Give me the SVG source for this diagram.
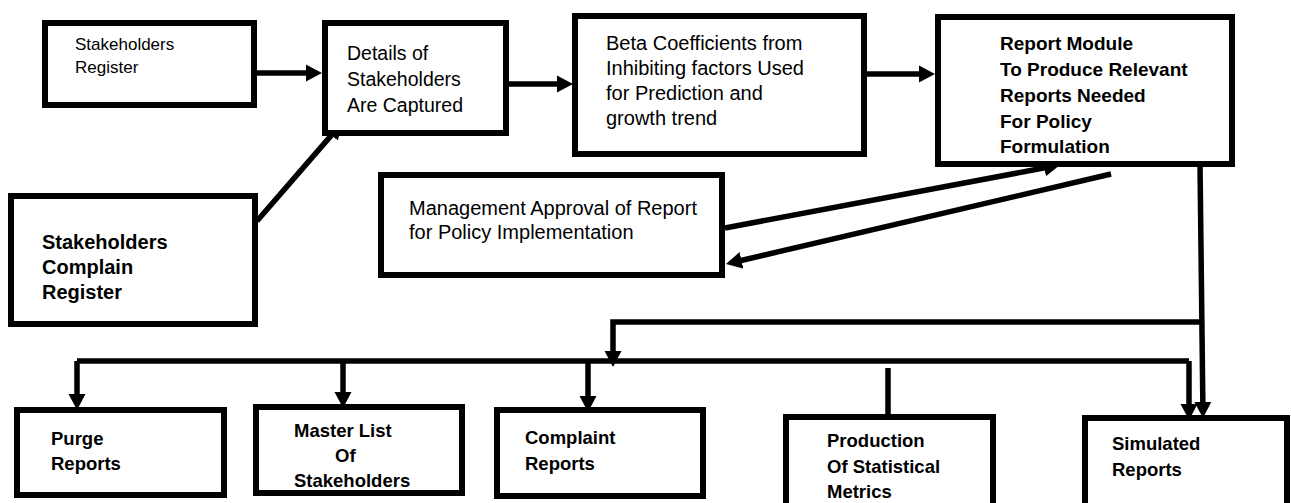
<svg xmlns="http://www.w3.org/2000/svg" width="1291" height="503" viewBox="0 0 1291 503">
<style>
.box{fill:#fff;stroke:#000;stroke-width:6}
.t{font-family:"Liberation Sans",Arial,sans-serif;fill:#000}
.b{font-weight:bold}
.c{fill:none;stroke:#000;stroke-width:5.5}
.a{marker-end:url(#ah)}
</style>
<defs>
<marker id="ah" markerUnits="userSpaceOnUse" markerWidth="17" markerHeight="18" refX="6" refY="9" orient="auto" viewBox="0 0 17 18">
<path d="M0,0.5 L16,9 L0,17.5 z" fill="#000"/>
</marker>
</defs>
<rect width="1291" height="503" fill="#fff"/>
<g id="connectors">
<path class="c a" d="M257,73 H312"/>
<path class="c a" d="M509,84 H563"/>
<path class="c a" d="M867,74 H925"/>
<path class="c a" d="M257,221 L335.4,130.6"/>
<path class="c a" d="M725,228 L1050.2,166.8"/>
<path class="c a" d="M1111,174 L735.7,261.7"/>
<path class="c a" d="M1200,164 L1202.9,408"/>
<path class="c a" d="M1201,322 H613 V357"/>
<path class="c" d="M77,361 H1189"/>
<path class="c a" d="M77,361 V400"/>
<path class="c a" d="M343,361 V398"/>
<path class="c a" d="M588,361 V402"/>
<path class="c a" d="M1189,361 V410"/>
<path class="c" d="M888,368 V416"/>
</g>
<g id="stakeholders-register">
<rect class="box" x="45" y="23" width="209" height="82"/>
<text class="t" font-size="17" x="75" y="50">Stakeholders</text>
<text class="t" font-size="17" x="75" y="73">Register</text>
</g>
<g id="details">
<rect class="box" x="325" y="23" width="181" height="110"/>
<text class="t" font-size="19.5" x="347" y="60">Details of</text>
<text class="t" font-size="19.5" x="347" y="86">Stakeholders</text>
<text class="t" font-size="19.5" x="347" y="112">Are Captured</text>
</g>
<g id="beta">
<rect class="box" x="575" y="16" width="289" height="138"/>
<text class="t" font-size="20" x="606" y="50">Beta Coefficients from</text>
<text class="t" font-size="20" x="606" y="75">Inhibiting factors Used</text>
<text class="t" font-size="20" x="606" y="100">for Prediction and</text>
<text class="t" font-size="20" x="606" y="125">growth trend</text>
</g>
<g id="report-module">
<rect class="box" x="938" y="17" width="294" height="147"/>
<text class="t b" font-size="19" x="1000" y="50">Report Module</text>
<text class="t b" font-size="19" x="1000" y="76">To Produce Relevant</text>
<text class="t b" font-size="19" x="1000" y="102">Reports Needed</text>
<text class="t b" font-size="19" x="1000" y="128">For Policy</text>
<text class="t b" font-size="19" x="1000" y="153">Formulation</text>
</g>
<g id="complain-register">
<rect class="box" x="11" y="196" width="244" height="128"/>
<text class="t b" font-size="20" x="42" y="249">Stakeholders</text>
<text class="t b" font-size="20" x="42" y="274">Complain</text>
<text class="t b" font-size="20" x="42" y="299">Register</text>
</g>
<g id="management-approval">
<rect class="box" x="381" y="175" width="341" height="100"/>
<text class="t" font-size="20" x="409" y="215">Management Approval of Report</text>
<text class="t" font-size="20" x="409" y="239">for Policy Implementation</text>
</g>
<g id="purge-reports">
<rect class="box" x="17" y="410" width="207" height="85"/>
<text class="t b" font-size="18.5" x="51" y="445">Purge</text>
<text class="t b" font-size="18.5" x="51" y="470">Reports</text>
</g>
<g id="master-list">
<rect class="box" x="256" y="407" width="206" height="86"/>
<text class="t b" font-size="18.5" x="294" y="437">Master List</text>
<text class="t b" font-size="18.5" x="335" y="462">Of</text>
<text class="t b" font-size="18.5" x="294" y="487">Stakeholders</text>
</g>
<g id="complaint-reports">
<rect class="box" x="497" y="410" width="206" height="86"/>
<text class="t b" font-size="18.5" x="525" y="444">Complaint</text>
<text class="t b" font-size="18.5" x="525" y="470">Reports</text>
</g>
<g id="statistical-metrics">
<rect class="box" x="786" y="417" width="207" height="92"/>
<text class="t b" font-size="18.5" x="827" y="447">Production</text>
<text class="t b" font-size="18.5" x="827" y="473">Of Statistical</text>
<text class="t b" font-size="18.5" x="827" y="498">Metrics</text>
</g>
<g id="simulated-reports">
<rect class="box" x="1085" y="418" width="202" height="92"/>
<text class="t b" font-size="18.5" x="1112" y="450">Simulated</text>
<text class="t b" font-size="18.5" x="1112" y="476">Reports</text>
</g>
</svg>
